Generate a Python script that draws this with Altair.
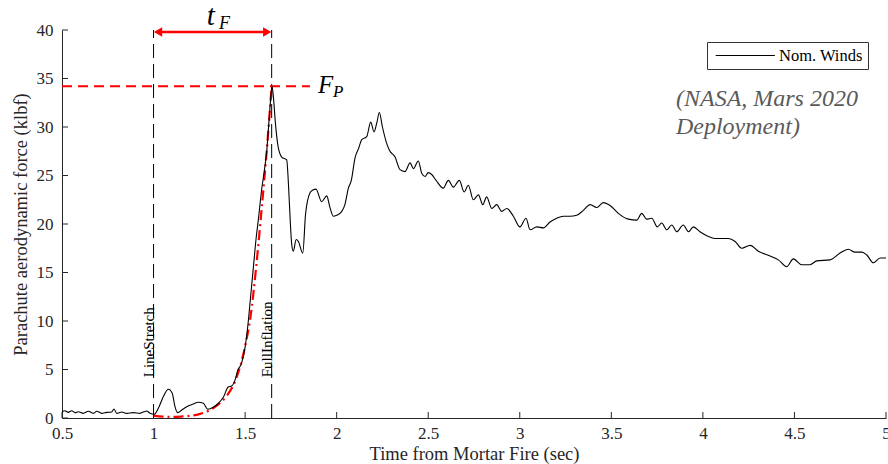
import altair as alt
import pandas as pd

# ---- data ----
time_s = [0.50, 0.516, 0.534, 0.553, 0.571, 0.589, 0.616, 0.644, 0.671, 0.690, 0.717, 0.744,
          0.771, 0.784, 0.799, 0.826, 0.853, 0.889, 0.926, 0.944, 0.963, 0.981, 1.004, 1.026,
          1.053, 1.081, 1.102, 1.117, 1.132, 1.154, 1.181, 1.217, 1.244, 1.272, 1.296, 1.326,
          1.354, 1.381, 1.408, 1.427, 1.445, 1.460, 1.48, 1.50, 1.517, 1.53, 1.545, 1.56,
          1.572, 1.59, 1.605, 1.618, 1.63, 1.64, 1.647, 1.655, 1.665, 1.68, 1.70, 1.727,
          1.737, 1.746, 1.754, 1.763, 1.779, 1.791, 1.815, 1.83, 1.854, 1.870, 1.887, 1.918,
          1.946, 1.962, 1.982, 2.000, 2.028, 2.045, 2.064, 2.080, 2.100, 2.120, 2.137, 2.164,
          2.186, 2.204, 2.220, 2.233, 2.250, 2.270, 2.288, 2.319, 2.346, 2.373, 2.401, 2.419,
          2.446, 2.465, 2.483, 2.500, 2.519, 2.543, 2.582, 2.610, 2.637, 2.670, 2.696, 2.719,
          2.746, 2.774, 2.798, 2.819, 2.847, 2.874, 2.901, 2.929, 2.965, 3.001, 3.034, 3.056,
          3.093, 3.129, 3.165, 3.202, 3.238, 3.274, 3.311, 3.347, 3.384, 3.420, 3.456, 3.493,
          3.538, 3.593, 3.639, 3.666, 3.693, 3.721, 3.751, 3.775, 3.803, 3.830, 3.857, 3.893,
          3.921, 3.948, 3.984, 4.021, 4.076, 4.139, 4.176, 4.212, 4.258, 4.303, 4.367, 4.412,
          4.458, 4.494, 4.540, 4.585, 4.622, 4.694, 4.749, 4.794, 4.831, 4.868, 4.895, 4.931,
          4.968, 5.000]
force_klbf = [0.65, 0.75, 0.58, 0.75, 0.55, 0.65, 0.48, 0.69, 0.48, 0.69, 0.48, 0.58,
              0.62, 0.93, 0.48, 0.62, 0.48, 0.55, 0.48, 0.62, 0.72, 0.48, 0.38, 1.0,
              2.2, 2.96, 2.55, 1.17, 0.55, 0.82, 1.17, 1.44, 1.62, 1.52, 0.9, 1.1,
              1.52, 2.13, 3.2, 3.3, 3.9, 4.95, 5.6, 7.3, 9.9, 12.5, 15.5, 18.5,
              20.4, 23.5, 25.5, 27.5, 30.5, 33.0, 34.2, 33.0, 30.5, 28.0, 26.9, 26.6,
              24.0, 20.5, 18.0, 17.2, 18.4, 18.2, 17.0, 21.0, 23.2, 23.5, 23.6, 22.3,
              22.9, 21.8, 20.8, 20.9, 21.3, 22.0, 23.7, 24.5, 26.8, 27.8, 28.7, 29.0,
              30.5, 29.5, 30.5, 31.5, 30.0, 28.5, 27.6, 26.9, 25.6, 25.4, 26.3, 25.7,
              26.5, 25.2, 24.9, 25.3, 25.1, 24.5, 23.7, 24.5, 23.8, 24.5, 23.3, 24.0,
              22.5, 23.0, 22.0, 22.8, 21.6, 22.0, 21.3, 21.6, 20.8, 19.7, 20.6, 19.4,
              19.7, 19.6, 20.2, 20.6, 20.8, 20.8, 20.9, 21.4, 22.0, 21.7, 22.2, 21.9,
              21.1, 20.5, 20.4, 21.1, 20.5, 20.6, 19.7, 20.1, 19.4, 19.9, 19.2, 19.9,
              19.2, 19.7, 19.2, 18.8, 18.5, 18.5, 18.2, 17.5, 17.8, 17.2, 16.7, 16.3,
              15.6, 16.4, 15.8, 15.8, 16.2, 16.3, 17.0, 17.4, 17.1, 17.1, 16.8, 16.0,
              16.5, 16.5]

fit_time = [1.0, 1.05, 1.10, 1.15, 1.20, 1.25, 1.30, 1.35, 1.40, 1.45, 1.50, 1.53,
            1.56, 1.59, 1.62, 1.645]
fit_force = [0.25, 0.15, 0.12, 0.15, 0.22, 0.4, 0.75, 1.35, 2.3, 4.0, 7.4, 10.5,
             15.5, 21.5, 28.0, 34.2]

x_ticks = [0.5, 1, 1.5, 2, 2.5, 3, 3.5, 4, 4.5, 5]
y_ticks = [0, 5, 10, 15, 20, 25, 30, 35, 40]

event_time = [1.0, 1.645]
event_label = ["LineStretch", "FullInflation"]
peak_force = 34.2
series_name = "Nom. Winds"

FONT = "Liberation Serif"
W, H = 824, 388

main_df = pd.DataFrame({"t": time_s, "f": force_klbf, "series": series_name})
fit_df = pd.DataFrame({"t": fit_time, "f": fit_force})
ev_df = pd.DataFrame({"t": event_time, "label": event_label})
xt_df = pd.DataFrame({"v": x_ticks})
yt_df = pd.DataFrame({"v": y_ticks})

xs = alt.Scale(domain=[0.5, 5], nice=False, zero=False)
ys = alt.Scale(domain=[0, 40], nice=False, zero=False)

main = alt.Chart(main_df).mark_line(strokeWidth=1.1, clip=True, interpolate="monotone").encode(
    x=alt.X("t:Q", scale=xs, axis=alt.Axis(
        values=x_ticks, format="~g", ticks=False, grid=False,
        title="Time from Mortar Fire (sec)", labelPadding=7,
        titleY=35, titleBaseline="middle", labelFlush=False)),
    y=alt.Y("f:Q", scale=ys, axis=alt.Axis(
        values=y_ticks, ticks=False, grid=False, labelPadding=9,
        title="Parachute aerodynamic force (klbf)",
        titleX=-42, titleY=H / 2, titleAngle=270, titleBaseline="middle",
        titleAlign="center")),
    color=alt.Color("series:N", scale=alt.Scale(range=["black"]), legend=alt.Legend(
        orient="none", legendX=645, legendY=12, title=None,
        symbolType="M-0.6,0L6.8,0", symbolSize=256, symbolStrokeWidth=1,
        labelFont=FONT, labelFontSize=16.5, labelColor="black", labelOffset=50,
        strokeColor="#333333", fillColor="white", padding=5, cornerRadius=0)),
)

fit = alt.Chart(fit_df).mark_line(color="#ff0000", strokeWidth=2.2, interpolate="monotone",
                                  strokeDash=[10, 4, 2, 4]).encode(x="t:Q", y="f:Q")

events = alt.Chart(ev_df).mark_rule(color="black", strokeWidth=1,
                                    strokeDash=[14, 6]).encode(
    x="t:Q", y=alt.datum(0), y2=alt.datum(40))

event_text = alt.Chart(ev_df).mark_text(
    angle=270, align="left", baseline="alphabetic", font=FONT, fontSize=15,
    color="black").encode(x="t:Q", y=alt.datum(4.2), text="label:N")

peak_line = alt.Chart(pd.DataFrame({"f": [peak_force]})).mark_rule(
    color="#ff0000", strokeWidth=2, strokeDash=[10, 6]).encode(
    x=alt.datum(0.5), x2=alt.datum(1.854), y="f:Q")

arrow_line = alt.Chart(pd.DataFrame({"y": [39.8]})).mark_rule(
    color="#ff0000", strokeWidth=2.5).encode(
    x=alt.datum(event_time[0] + 0.02), x2=alt.datum(event_time[1] - 0.02), y="y:Q")

arrow_l = alt.Chart(pd.DataFrame({"y": [39.8]})).mark_point(
    shape="triangle-left", filled=True, color="#ff0000", opacity=1, size=90).encode(
    x=alt.datum(event_time[0] + 0.0246), y="y:Q")
arrow_r = alt.Chart(pd.DataFrame({"y": [39.8]})).mark_point(
    shape="triangle-right", filled=True, color="#ff0000", opacity=1, size=90).encode(
    x=alt.datum(event_time[1] - 0.0246), y="y:Q")

def label(txt, x, y, size, color="black", style="italic", fnt=FONT):
    return alt.Chart(pd.DataFrame({"s": [txt]})).mark_text(
        align="left", baseline="alphabetic", font=fnt, fontSize=size,
        fontStyle=style, color=color).encode(
        x=alt.datum(x), y=alt.datum(y), text="s:N")

tF_t = label("t", 1.290, 40.5, 29)
tF_F = label("F", 1.357, 40.1, 18)
FP_F = label("F", 1.898, 33.5, 25)
FP_P = label("P", 1.980, 33.1, 17)

nasa = alt.Chart(pd.DataFrame({"s": ["(NASA, Mars 2020\nDeployment)"]})).mark_text(
    align="left", baseline="top", font=FONT, fontSize=24, fontStyle="italic",
    color="#5a5a5a", lineBreak="\n", lineHeight=28).encode(
    x=alt.datum(3.853), y=alt.datum(34.1), text="s:N")

x_tick_marks = alt.Chart(xt_df).mark_rule(color="#262626", strokeWidth=1).encode(
    x="v:Q", y=alt.value(H), y2=alt.value(H - 6))
y_tick_marks = alt.Chart(yt_df).mark_rule(color="#262626", strokeWidth=1).encode(
    y="v:Q", x=alt.value(0), x2=alt.value(6))

chart = alt.layer(
    x_tick_marks, y_tick_marks, events, event_text, peak_line, fit, main,
    arrow_line, arrow_l, arrow_r, tF_t, tF_F, FP_F, FP_P, nasa
).properties(
    width=W, height=H,
    autosize=alt.AutoSizeParams(type="none"),
    padding={"left": 62, "top": 30, "right": 2, "bottom": 46},
    background="white",
).configure_view(stroke=None).configure_axis(
    labelFont=FONT, labelFontSize=17, labelColor="#262626",
    titleFont=FONT, titleFontSize=18.5, titleFontWeight="normal", titleColor="#262626",
    domainColor="#262626", domainWidth=1,
)

chart.save("out.html", embed_options={"renderer": "svg", "actions": False})
